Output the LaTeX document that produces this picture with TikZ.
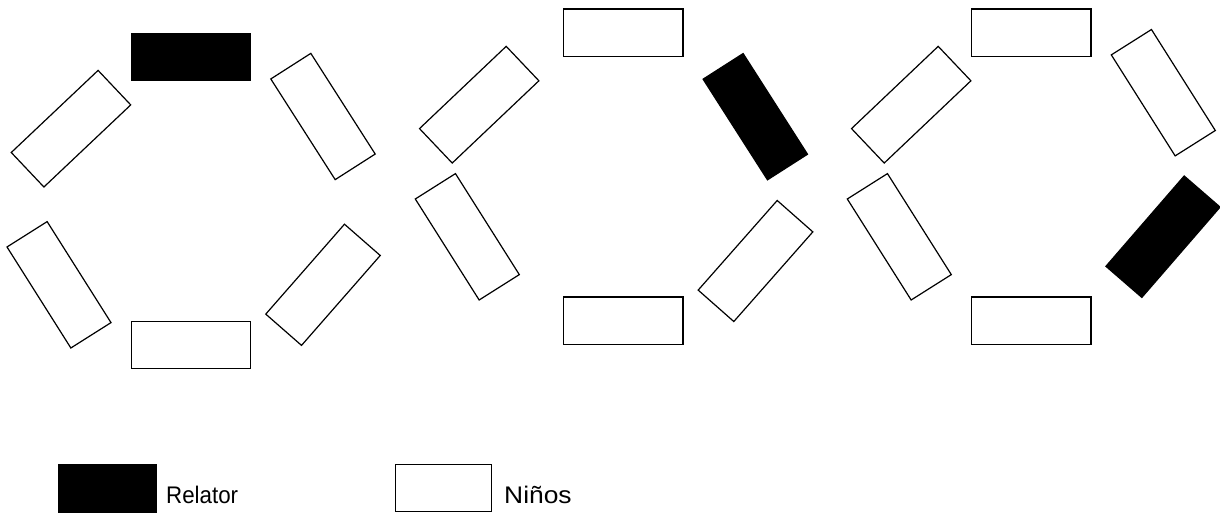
\documentclass[tikz,border=0pt]{standalone}
\usepackage{fontspec}
\setmainfont{Liberation Sans}
\begin{document}
\begin{tikzpicture}[x=1pt,y=-1pt,
  kid/.style={draw=black,fill=white,line width=1.2pt,rectangle,inner sep=0pt,minimum width=119.5pt,minimum height=47.5pt},
  rel/.style={kid,fill=black},
  lbl/.style={anchor=base west,inner sep=0pt,font=\fontsize{24pt}{28pt}\selectfont}]
\useasboundingbox (0,0) rectangle (1220,513);
% group 1
\node[rel] (g1t) at (191,57) {};
\node[kid,rotate=43.4] (g1ul) at (71,128.7) {};
\node[kid,rotate=-57.4] (g1ur) at (323,116.5) {};
\node[kid,rotate=-57.7] (g1ll) at (59,284.8) {};
\node[kid] (g1b) at (191,345) {};
\node[kid,rotate=48.8] (g1lr) at (323,284.8) {};
% group 2
\node[kid] (g2t) at (623.3,32.7) {};
\node[kid,rotate=43.5] (g2ul) at (479.2,104.7) {};
\node[rel,rotate=-57.4] (g2ur) at (755.3,116.7) {};
\node[kid,rotate=-57.7] (g2ll) at (467.3,236.8) {};
\node[kid] (g2b) at (623.2,320.8) {};
\node[kid,rotate=48.6] (g2lr) at (755.5,261) {};
% group 3
\node[kid] (g3t) at (1031.3,32.7) {};
\node[kid,rotate=43.5] (g3ul) at (911.2,104.7) {};
\node[kid,rotate=-57.7] (g3ur) at (1163.3,92.7) {};
\node[kid,rotate=-57.7] (g3ll) at (899.3,236.8) {};
\node[kid] (g3b) at (1031.3,320.8) {};
\node[rel,rotate=49.1] (g3lr) at (1163,236.7) {};
% legend
\node[rel,minimum width=97.5pt,minimum height=47.5pt] (legrel) at (107.5,488.3) {};
\node[kid,minimum width=95.5pt,minimum height=46.5pt] (legkid) at (443.5,488) {};
\node[lbl] (txtrel) at (166,503) {\scalebox{0.93}[1]{Relator}};
\node[lbl] (txtkid) at (504,503) {\scalebox{1.1}[1]{Niños}};
\end{tikzpicture}
\end{document}
